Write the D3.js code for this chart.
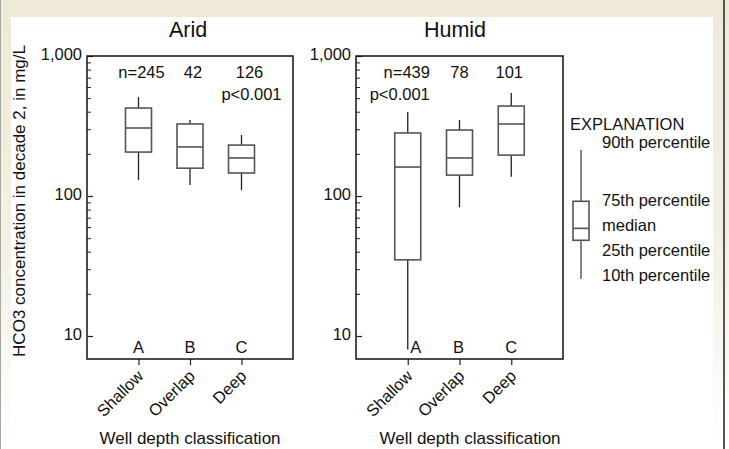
<!DOCTYPE html>
<html>
<head>
<meta charset="utf-8">
<script src="https://cdn.jsdelivr.net/npm/d3@7"></script>
<style>
  html, body { margin: 0; padding: 0; background: #fff; }
  svg { display: block; font-family: "Liberation Sans", Arial, sans-serif; }
</style>
</head>
<body>
<div id="container"></div>
<script>
const w = 729;
const h = 449;

// data (mg/L)
const categories = ["Shallow", "Overlap", "Deep"];
const groupLetters = ["A", "B", "C"];

const aridP10 = [130, 120, 110];
const aridP25 = [206, 158, 146];
const aridMed = [306, 224, 187];
const aridP75 = [425, 327, 231];
const aridP90 = [509, 349, 273];
const aridN = ["n=245", "42", "126"];

const humidP10 = [8, 83, 137];
const humidP25 = [35, 141, 196];
const humidMed = [161, 187, 327];
const humidP75 = [282, 296, 439];
const humidP90 = [398, 349, 545];
const humidN = ["n=439", "78", "101"];

const majorTicks = [10, 100, 1000];
const minorTicks = [20, 30, 40, 50, 60, 70, 80, 90, 200, 300, 400, 500, 600, 700, 800, 900];
const legendLabels = ["90th percentile", "75th percentile", "median", "25th percentile", "10th percentile"];

const panels = [
  { title: "Arid", x0: 87, x1: 293, p10: aridP10, p25: aridP25, med: aridMed, p75: aridP75, p90: aridP90,
    n: aridN, nDx: [3, 3, 8], pIndex: 2, pDx: 10, letterDx: [0, 0, 0], titleX: 188, xTitleX: 190 },
  { title: "Humid", x0: 356, x1: 563, p10: humidP10, p25: humidP25, med: humidMed, p75: humidP75, p90: humidP90,
    n: humidN, nDx: [-1, 0, -2], pIndex: 0, pDx: -8, letterDx: [8, -1, 0], titleX: 455, xTitleX: 470 }
];

const plotTop = 56, plotBottom = 359;
const y = d3.scaleLog().domain([6.85, 1000]).range([plotBottom, plotTop]);

const svg = d3.select("#container").append("svg")
  .attr("width", w).attr("height", h);

// page frame
const defs = svg.append("defs");
const fade = defs.append("linearGradient").attr("id", "fade")
  .attr("x1", 0).attr("y1", 0).attr("x2", 0).attr("y2", 1);
fade.append("stop").attr("offset", "0").attr("stop-color", "#efe9d8");
fade.append("stop").attr("offset", "0.55").attr("stop-color", "#f4f0e4");
fade.append("stop").attr("offset", "1").attr("stop-color", "#ffffff");
svg.append("rect").attr("width", 11).attr("height", h).attr("fill", "url(#fade)");
svg.append("rect").attr("x", 713).attr("width", 16).attr("height", h).attr("fill", "url(#fade)");
svg.append("rect").attr("width", w).attr("height", 17).attr("fill", "#efe9d8");
svg.append("line").attr("x1", 0.5).attr("x2", 0.5).attr("y1", 0).attr("y2", h)
  .attr("stroke", "#a8a8a0").attr("stroke-width", 1);
svg.append("line").attr("x1", 724).attr("x2", 724).attr("y1", 0).attr("y2", h)
  .attr("stroke", "#555").attr("stroke-width", 2);

const fs = "16.5px";

panels.forEach(function(p) {
  const x = d3.scalePoint().domain(categories).range([p.x0, p.x1]).padding(1);
  const g = svg.append("g");

  // minor ticks
  g.append("g")
    .attr("transform", "translate(" + p.x0 + ",0)")
    .call(d3.axisLeft(y).tickValues(minorTicks).tickSize(-4).tickFormat(""))
    .call(s => s.select(".domain").remove())
    .call(s => s.selectAll("line").attr("stroke", "#222").attr("stroke-width", 1));

  // major ticks + labels
  g.append("g")
    .attr("transform", "translate(" + p.x0 + ",0)")
    .call(d3.axisLeft(y).tickValues(majorTicks).tickSize(-6).tickPadding(6).tickFormat(d3.format(",")))
    .call(s => s.select(".domain").remove())
    .call(s => s.selectAll("line").attr("x1", 1).attr("stroke", "#222").attr("stroke-width", 1.2))
    .call(s => s.selectAll("text").attr("x", -5).attr("dy", "0.2em").attr("text-anchor", "end")
      .style("font-size", fs).attr("fill", "#111").attr("font-family", null));

  // x axis ticks and labels
  g.append("g")
    .attr("transform", "translate(0," + plotBottom + ")")
    .call(d3.axisBottom(x).tickSize(6).tickFormat(""))
    .call(s => s.select(".domain").remove())
    .call(s => s.selectAll("line").attr("stroke", "#222").attr("stroke-width", 1.2));

  g.selectAll(".cat").data(categories).enter().append("text")
    .attr("class", "cat")
    .attr("transform", d => "translate(" + (x(d) + 6) + "," + (plotBottom + 18) + ") rotate(-45)")
    .attr("text-anchor", "end")
    .style("font-size", fs).attr("fill", "#111")
    .text(d => d);

  // frame of the panel
  g.append("rect")
    .attr("x", p.x0).attr("y", plotTop)
    .attr("width", p.x1 - p.x0).attr("height", plotBottom - plotTop)
    .attr("fill", "none").attr("stroke", "#111").attr("stroke-width", 1.5);

  // boxes
  const boxes = categories.map((c, i) => ({ c: c, p10: p.p10[i], p25: p.p25[i], med: p.med[i], p75: p.p75[i], p90: p.p90[i] }));
  const bw = 26;
  const b = g.selectAll(".box").data(boxes).enter().append("g").attr("class", "box");
  b.append("line")
    .attr("x1", d => x(d.c)).attr("x2", d => x(d.c))
    .attr("y1", d => y(d.p90)).attr("y2", d => y(d.p10))
    .attr("stroke", "#222").attr("stroke-width", 1.3);
  b.append("rect")
    .attr("x", d => x(d.c) - bw / 2).attr("width", bw)
    .attr("y", d => y(d.p75)).attr("height", d => y(d.p25) - y(d.p75))
    .attr("fill", "#fff").attr("stroke", "#555").attr("stroke-width", 1.6);
  b.append("line")
    .attr("x1", d => x(d.c) - bw / 2).attr("x2", d => x(d.c) + bw / 2)
    .attr("y1", d => y(d.med)).attr("y2", d => y(d.med))
    .attr("stroke", "#555").attr("stroke-width", 1.6);

  // annotations
  g.selectAll(".n").data(categories).enter().append("text")
    .attr("x", (d, i) => x(d) + p.nDx[i]).attr("y", 78)
    .attr("text-anchor", "middle").style("font-size", fs).attr("fill", "#111")
    .text((d, i) => p.n[i]);
  g.append("text")
    .attr("x", x(categories[p.pIndex]) + p.pDx).attr("y", 100)
    .attr("text-anchor", "middle").style("font-size", fs).attr("fill", "#111")
    .text("p<0.001");
  g.selectAll(".letter").data(categories).enter().append("text")
    .attr("x", (d, i) => x(d) + p.letterDx[i]).attr("y", 353)
    .attr("text-anchor", "middle").style("font-size", fs).attr("fill", "#111")
    .text((d, i) => groupLetters[i]);

  // titles
  g.append("text").attr("x", p.titleX).attr("y", 37)
    .attr("text-anchor", "middle").style("font-size", "21.5px").attr("fill", "#111")
    .text(p.title);
  g.append("text").attr("x", p.xTitleX).attr("y", 444)
    .attr("text-anchor", "middle").style("font-size", "17px").attr("fill", "#111")
    .text("Well depth classification");
});

// y axis title
svg.append("text")
  .attr("transform", "translate(25,201) rotate(-90)")
  .attr("text-anchor", "middle").style("font-size", "17px").attr("fill", "#111")
  .text("HCO3 concentration in decade 2, in mg/L");

// explanation
const lg = svg.append("g");
const ly = d3.scaleLinear().domain([0, 4]).range([150, 279]);
const lx = 581;
lg.append("text").attr("x", 570).attr("y", 130).style("font-size", fs).attr("fill", "#111").text("EXPLANATION");
lg.append("line").attr("x1", lx).attr("x2", lx).attr("y1", ly(0)).attr("y2", ly(4))
  .attr("stroke", "#444").attr("stroke-width", 1.3);
lg.append("rect").attr("x", lx - 8).attr("width", 16)
  .attr("y", ly(1.59)).attr("height", ly(2.8) - ly(1.59))
  .attr("fill", "#fff").attr("stroke", "#555").attr("stroke-width", 1.6);
lg.append("line").attr("x1", lx - 8).attr("x2", lx + 8).attr("y1", ly(2.43)).attr("y2", ly(2.43))
  .attr("stroke", "#555").attr("stroke-width", 1.6);
const labelY = [148, 206, 231, 256, 281];
lg.selectAll(".lab").data(legendLabels).enter().append("text")
  .attr("x", 602).attr("y", (d, i) => labelY[i])
  .style("font-size", fs).attr("fill", "#111").text(d => d);
</script>
</body>
</html>
